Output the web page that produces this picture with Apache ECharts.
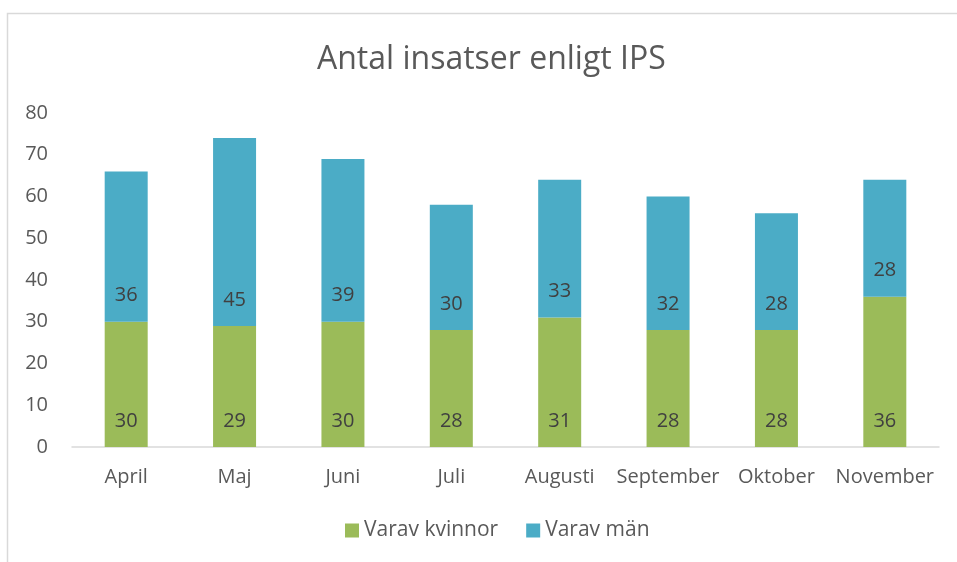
<!DOCTYPE html>
<html>
<head>
<meta charset="utf-8">
<script src="https://cdn.jsdelivr.net/npm/echarts@6/dist/echarts.min.js"></script>
<style>
  html, body { margin: 0; padding: 0; background: #fff; }
  #chart { width: 957px; height: 562px; }
</style>
</head>
<body>
<div id="chart"></div>
<script>
const months = ['April', 'Maj', 'Juni', 'Juli', 'Augusti', 'September', 'Oktober', 'November']
const kvinnor = [30, 29, 30, 28, 31, 28, 28, 36]
const man = [36, 45, 39, 30, 33, 32, 28, 28]

const font = '"Open Sans", sans-serif'
const textColor = '#595959'

const chart = echarts.init(document.getElementById('chart'))

const labelStyle = {
  show: true,
  position: 'insideBottom',
  distance: 16,
  color: '#404040',
  fontSize: 20,
  fontFamily: font,
}

chart.setOption({
  animation: false,
  graphic: [
    {
      type: 'rect',
      shape: { x: 7.5, y: 13.5, width: 1000, height: 600 },
      style: { fill: 'none', stroke: '#D9D9D9', lineWidth: 1.5 },
      silent: true,
    },
  ],
  title: {
    text: 'Antal insatser enligt IPS',
    left: 312,
    top: 39,
    textStyle: { fontSize: 32, fontWeight: 'normal', color: textColor, fontFamily: font },
  },
  legend: {
    bottom: 16,
    left: 340,
    itemWidth: 14,
    itemHeight: 14,
    itemGap: 28,
    icon: 'rect',
    textStyle: { fontSize: 21, color: textColor, fontFamily: font },
    data: ['Varav kvinnor', 'Varav män'],
  },
  grid: { left: 72, right: 18, top: 113, bottom: 115, containLabel: false },
  xAxis: {
    type: 'category',
    data: months,
    axisLine: { lineStyle: { color: '#D9D9D9', width: 1.5 } },
    axisTick: { show: false },
    axisLabel: { interval: 0, color: textColor, fontSize: 20, fontFamily: font, margin: 20 },
  },
  yAxis: {
    type: 'value',
    min: 0,
    max: 80,
    interval: 10,
    splitLine: { show: false },
    axisLine: { show: false },
    axisTick: { show: false },
    axisLabel: { color: textColor, fontSize: 20, fontFamily: font, margin: 24 },
  },
  series: [
    {
      name: 'Varav kvinnor',
      type: 'bar',
      stack: 'total',
      data: kvinnor,
      barWidth: 43,
      itemStyle: { color: '#9BBB59' },
      label: labelStyle,
    },
    {
      name: 'Varav män',
      type: 'bar',
      stack: 'total',
      data: man,
      barWidth: 43,
      itemStyle: { color: '#4BACC6' },
      label: labelStyle,
    },
  ],
})

window.addEventListener('resize', () => chart.resize())
</script>
</body>
</html>
